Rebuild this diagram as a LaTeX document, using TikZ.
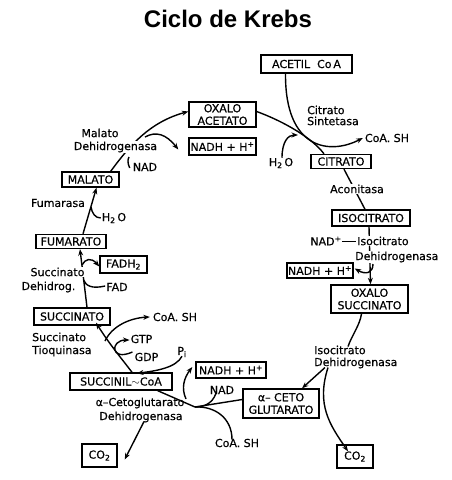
\documentclass[tikz,border=0pt]{standalone}
\usepackage{fontspec}
\setmainfont{DejaVu Sans}[FakeBold=0.5]
\newfontfamily\titlefont{Liberation Sans}
\usetikzlibrary{arrows.meta}
\begin{document}
\begin{tikzpicture}[x=1pt,y=-1pt,
  every node/.style={font=\fontsize{11}{12.5}\selectfont, inner sep=0pt},
  box/.style={draw, line width=1.4pt, align=center},
  wlbl/.style={fill=white, inner sep=1pt},
  conn/.style={line width=1.4pt},
  arr/.style={conn, -{Stealth[length=6.5pt,width=5pt]}},
]
\useasboundingbox (0,0) rectangle (452,480);

% title
\node[font=\titlefont\bfseries\fontsize{24}{28}\selectfont] (title) at (228,19) {Ciclo de Krebs};

% boxes
\node[box, minimum width=91, minimum height=18] (acetil) at (306.5,64) {ACETIL\ \ Co\,A};
\node[box, minimum width=67, minimum height=25] (oxac) at (222.5,114.5) {OXALO\\ACETATO};
\node[box, minimum width=67, minimum height=17] (nadh1) at (222.5,146.5) {NADH + H\textsuperscript{+}};
\node[box, minimum width=60, minimum height=14] (citrato) at (341,161.5) {CITRATO};
\node[box, minimum width=78, minimum height=16] (isocit) at (371,218) {ISOCITRATO};
\node[box, minimum width=66, minimum height=15] (nadh2) at (320,270.5) {NADH + H\textsuperscript{+}};
\node[box, minimum width=77, minimum height=28] (oxsuc) at (369.5,299) {OXALO\\SUCCINATO};
\node[box, minimum width=76, minimum height=29] (aceto) at (281,403.5) {α– CETO\\GLUTARATO};
\node[box, minimum width=36, minimum height=23] (co2r) at (355,456.5) {CO\textsubscript{2}};
\node[box, minimum width=70, minimum height=16] (nadh3) at (231,370) {NADH + H\textsuperscript{+}};
\node[box, minimum width=102, minimum height=17] (succoa) at (121,381.5) {SUCCINIL$\sim$CoA};
\node[box, minimum width=35, minimum height=23] (co2l) at (99.5,455.5) {CO\textsubscript{2}};
\node[box, minimum width=76, minimum height=17] (succ) at (72,316.5) {SUCCINATO};
\node[box, minimum width=47, minimum height=17] (fadh2) at (123.5,264.5) {FADH\textsubscript{2}};
\node[box, minimum width=70, minimum height=14] (fum) at (71,241.5) {FUMARATO};
\node[box, minimum width=57, minimum height=15] (mal) at (90.5,179.5) {MALATO};

% plain labels
\node[anchor=west] (cs1) at (307,110) {Citrato};
\node[anchor=west] (cs2) at (307,121) {Sintetasa};
\node (coa1) at (387,138) {CoA. SH};
\node (h2oc) at (281,163) {H\textsubscript{2}\,O};
\node (nadp) at (326,241) {NAD\textsuperscript{+}};
\node[anchor=west] (icd3) at (314,350) {Isocitrato};
\node[anchor=west] (icd4) at (314,363) {Dehidrogenasa};
\node (coab) at (237,443) {CoA. SH};
\node (nadb) at (222,390) {NAD};
\node (akg1) at (140,403) {α–Cetoglutarato};
\node (akg2) at (141,417) {Dehidrogenasa};
\node (pi) at (182,352) {P\textsubscript{i}};
\node (gdp) at (146.5,357) {GDP};
\node (gtp) at (141.5,339) {GTP};
\node (coam) at (175,317) {CoA. SH};
\node[anchor=west] (st1) at (32,337) {Succinato};
\node[anchor=west] (st2) at (32,351) {Tioquinasa};
\node (sd2) at (48.5,287) {Dehidrog.};
\node (fad) at (117,287) {FAD};
\node (fuma) at (58,203) {Fumarasa};
\node (h2ol) at (114,218) {H\textsubscript{2}\,O};
\node (nadt) at (145,167) {NAD};
\node (md1) at (100,133) {Malato};

% connectors drawn under white-backed labels
\draw[conn] (citrato.south)+(3,0) -- ([xshift=-6pt]isocit.north);
\draw[arr] ([xshift=-2pt]isocit.south) -- ([xshift=1pt]oxsuc.north);
\draw[arr] (succ.north)+(15,0) -- ([xshift=9pt]fum.south);
\draw[arr] ([xshift=-9pt]mal.north east) .. controls (130,145) and (150,122) .. ([yshift=3pt]oxac.west);

% white-backed labels
\node[wlbl] (aco) at (357,189) {Aconitasa};
\node[wlbl, anchor=west] (icd1) at (356,241) {Isocitrato};
\node[wlbl, anchor=west] (icd2) at (354,257) {Dehidrogenasa};
\node[wlbl] (sd1) at (57.5,272) {Succinato};
\node[wlbl] (md2) at (115.5,147) {Dehidrogenasa};

% junction coordinates
\coordinate (jk) at (195,407);
\coordinate (jn) at (373,264);
\coordinate (jf) at (82,265);
\coordinate (jfad) at (83.5,280);
\coordinate (jh) at (91,207);
\coordinate (jm) at (145,137);
\coordinate (js) at (105,341);

% citrate synthase
\draw[arr] ([xshift=-21pt]acetil.south) .. controls (285,150) and (330,155) .. ([xshift=-2pt]coa1.west);
\draw[conn] ([yshift=3pt]oxac.east) .. controls (285,122) and (312,138) .. ([xshift=-17pt]citrato.north);
\draw[arr] ([xshift=1pt]h2oc.north) .. controls (282,142) and (288,135) .. (298,135);

% isocitrate dehydrogenase
\draw[line width=0.9pt] (nadp.east) -- (icd1.west);
\draw[arr] (jn) .. controls (373,273) and (366,275) .. ([xshift=1pt,yshift=2pt]nadh2.east);

% oxalosuccinate -> alpha-KG, CO2
\draw[conn] ([xshift=-8pt]oxsuc.south) .. controls (360,325) and (352,335) .. ([xshift=34pt,yshift=-1pt]icd3.north west);
\draw[arr] ([xshift=11pt,yshift=1pt]icd4.south west) -- ([xshift=21pt]aceto.north);
\draw[arr] ([xshift=14pt,yshift=1pt]icd4.south west) .. controls (316,405) and (330,425) .. ([xshift=-7pt,yshift=-7pt]co2r.north);

% alpha-KG dehydrogenase
\draw[conn] ([yshift=4pt]aceto.west) -- (jk) .. controls (188,404) and (170,396) .. ([xshift=-15pt]succoa.south east);
\draw[arr] (186,399) .. controls (181,388) and (184,378) .. ([xshift=-3pt,yshift=3pt]nadh3.west);
\draw[conn] ([xshift=-6pt,yshift=1pt]nadb.south) .. controls (212,405) and (202,407) .. (jk);
\draw[conn] (jk) .. controls (215,406) and (232,418) .. ([xshift=-5pt,yshift=-1pt]coab.north);
\draw[arr] ([xshift=3pt,yshift=1pt]akg2.south) -- ([xshift=7pt,yshift=-4pt]co2l.east);

% succinyl-CoA synthetase
\draw[arr] ([xshift=11pt]succoa.north) .. controls (122,359) and (110,345) .. ([xshift=24pt,yshift=3pt]succ.south);
\draw[arr] (js) .. controls (112,326) and (130,318) .. ([xshift=-3pt]coam.west);
\draw[arr] ([xshift=-2pt,yshift=5pt]gdp.west) .. controls (110,362) and (110,340) .. ([xshift=-1pt,yshift=-1pt]gtp.west);
\draw[arr] ([yshift=1pt]pi.south) .. controls (176,368) and (155,371) .. ([xshift=16pt,yshift=-1pt]succoa.north);

% succinate dehydrogenase
\draw[arr] (jf) .. controls (85,259) and (91,257) .. ([yshift=-2pt]fadh2.west);
\draw[conn] ([xshift=-1pt,yshift=1pt]fad.west) .. controls (92,289) and (86,286) .. (jfad);

% fumarase
\draw[arr] ([xshift=12pt]fum.north) -- ([xshift=6pt]mal.south);
\draw[conn] ([xshift=-1pt]h2ol.west) .. controls (95,218) and (92,213) .. (jh);

% malate dehydrogenase
\draw[arr] (jm) .. controls (156,131) and (166,134) .. ([xshift=-10pt,yshift=-3pt]nadh1.west);
\draw[conn] ([xshift=-3pt,yshift=-1pt]nadt.west) .. controls (127,162) and (128,159) .. (129,157);

\end{tikzpicture}
\end{document}
